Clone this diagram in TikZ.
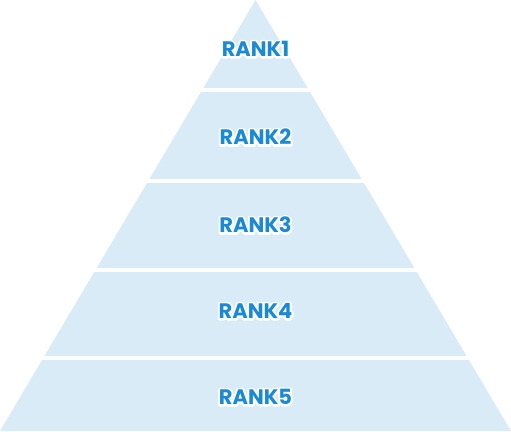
\documentclass[tikz,border=0pt]{standalone}
\usepackage{fontspec}
\setmainfont{Poppins}
\definecolor{bandfill}{HTML}{D9EBF7}
\definecolor{ranktext}{HTML}{1A8AD4}
\tikzset{
  ranklabel/.style={font=\bfseries\fontsize{21}{23}\selectfont, inner sep=0pt, anchor=center, text=ranktext},
}
\newcommand{\halotext}[1]{%
  \rlap{\special{pdf:code q 2 Tr 4 w 1 J 1 j}\textcolor{white}{#1}\special{pdf:code Q}}#1}
\begin{document}
\begin{tikzpicture}[x=1pt,y=-1pt]
\useasboundingbox (0,0) rectangle (511,431);
\coordinate (apex) at (255.5,0);
\coordinate (bl) at (0,431);
\coordinate (br) at (511,431);
\fill[bandfill] (apex) -- (br) -- (bl) -- cycle;
\foreach \g in {89.8,180.5,269.8,358}{
  \fill[white] (0,\g-2) rectangle (511,\g+2);
}
\node[ranklabel] (r1) at (255.5,49) {\halotext{RANK1}};
\node[ranklabel] (r2) at (255.5,137) {\halotext{RANK2}};
\node[ranklabel] (r3) at (255.5,225) {\halotext{RANK3}};
\node[ranklabel] (r4) at (255.5,311) {\halotext{RANK4}};
\node[ranklabel] (r5) at (255.5,397) {\halotext{RANK5}};
\end{tikzpicture}
\end{document}
